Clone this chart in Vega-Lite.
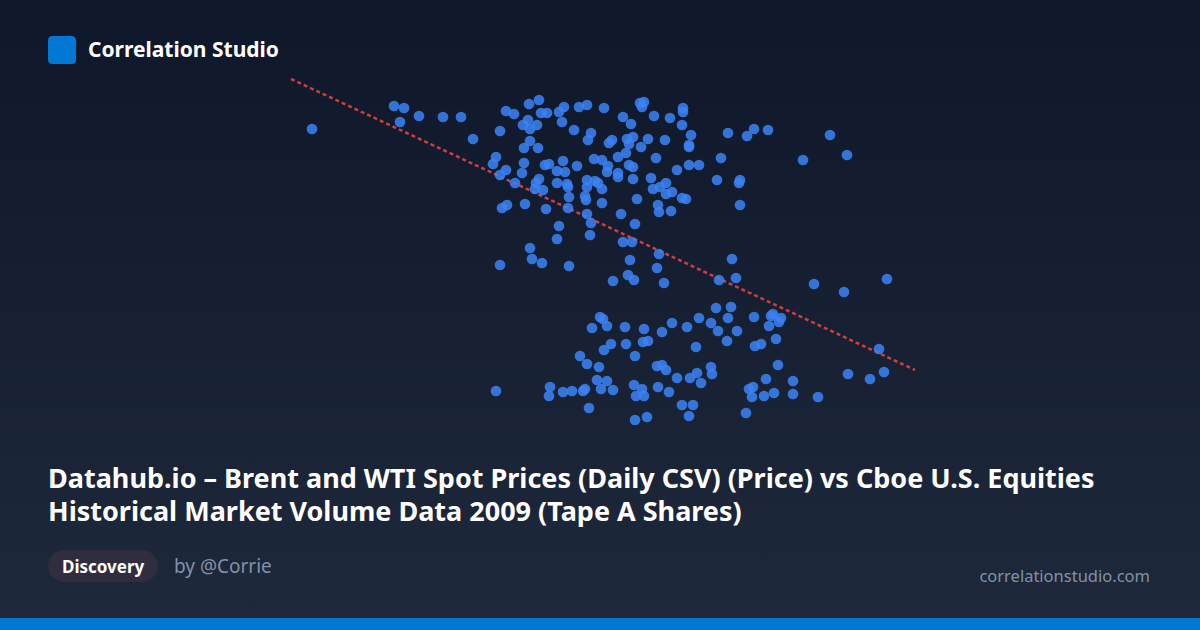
{
  "$schema": "https://vega.github.io/schema/vega-lite/v6.json",
  "width": 1200,
  "height": 630,
  "autosize": {"type": "fit", "contains": "padding"},
  "padding": 0,
  "background": "#0f172a",
  "config": {"view": {"stroke": null}, "font": "Noto Sans"},
  "datasets": {
    "points": [
      {"price":31.2,"volume":32.1},{"price":39.4,"volume":34.4},{"price":40.4,"volume":34.2},{"price":40.0,"volume":32.8},{"price":41.9,"volume":33.4},{"price":44.3,"volume":33.3},{"price":46.1,"volume":33.3},{"price":47.3,"volume":31.1},
      {"price":53.9,"volume":35.0},{"price":52.9,"volume":34.6},{"price":50.6,"volume":33.9},{"price":51.4,"volume":33.6},{"price":54.1,"volume":33.7},{"price":54.7,"volume":33.7},{"price":56.4,"volume":34.3},{"price":55.9,"volume":33.8},{"price":57.9,"volume":34.3},{"price":58.7,"volume":34.5},{"price":60.4,"volume":34.2},{"price":56.2,"volume":32.8},
      {"price":52.8,"volume":33.0},{"price":52.3,"volume":32.5},{"price":53.0,"volume":32.1},{"price":53.7,"volume":32.5},{"price":50.0,"volume":31.9},{"price":57.4,"volume":32.0},{"price":59.1,"volume":31.7},{"price":58.8,"volume":31.0},{"price":53.0,"volume":30.9},{"price":52.4,"volume":30.2},
      {"price":53.8,"volume":30.2},{"price":49.6,"volume":29.3},{"price":49.3,"volume":28.6},{"price":52.4,"volume":28.7},{"price":54.9,"volume":28.6},{"price":54.5,"volume":28.5},{"price":56.3,"volume":28.9},{"price":57.7,"volume":28.4},{"price":59.4,"volume":29.1},{"price":60.2,"volume":29.0},
      {"price":50.6,"volume":28.0},{"price":50.0,"volume":27.5},{"price":52.2,"volume":27.7},{"price":55.7,"volume":27.9},{"price":56.5,"volume":27.8},{"price":51.5,"volume":26.7},{"price":53.9,"volume":27.1},{"price":53.6,"volume":26.7},{"price":54.3,"volume":26.0},{"price":53.5,"volume":26.1},
      {"price":55.7,"volume":26.7},{"price":56.7,"volume":26.6},{"price":56.8,"volume":26.3},{"price":58.7,"volume":27.0},{"price":59.5,"volume":26.9},{"price":59.8,"volume":26.7},{"price":58.7,"volume":26.3},{"price":60.2,"volume":26.1},{"price":56.9,"volume":25.3},{"price":58.5,"volume":25.4},
      {"price":58.6,"volume":25.0},{"price":60.2,"volume":24.7},{"price":52.5,"volume":24.6},{"price":50.7,"volume":24.5},{"price":50.2,"volume":24.2},{"price":54.6,"volume":24.1},{"price":56.8,"volume":24.2},{"price":58.7,"volume":23.6},{"price":59.1,"volume":22.7},{"price":55.9,"volume":22.4},
      {"price":55.7,"volume":21.1},{"price":59.0,"volume":21.5},{"price":53.0,"volume":20.2},{"price":53.2,"volume":19.1},{"price":54.2,"volume":18.7},{"price":50.0,"volume":18.5},{"price":56.9,"volume":18.4},
      {"price":64.0,"volume":34.7},{"price":64.4,"volume":34.8},{"price":64.2,"volume":34.3},{"price":62.3,"volume":33.3},{"price":63.1,"volume":32.6},{"price":65.4,"volume":33.4},{"price":67.0,"volume":33.2},{"price":68.3,"volume":34.2},{"price":68.3,"volume":33.8},{"price":68.2,"volume":32.5},
      {"price":69.1,"volume":31.5},{"price":68.9,"volume":30.5},{"price":68.9,"volume":30.3},{"price":66.5,"volume":31.0},{"price":64.8,"volume":31.1},{"price":63.3,"volume":31.3},{"price":62.7,"volume":31.1},{"price":62.9,"volume":30.6},{"price":61.2,"volume":31.0},{"price":60.9,"volume":30.7},
      {"price":64.1,"volume":30.3},{"price":62.6,"volume":29.7},{"price":61.8,"volume":29.3},{"price":60.8,"volume":28.4},{"price":60.7,"volume":27.8},{"price":61.8,"volume":27.7},{"price":61.8,"volume":27.3},{"price":62.9,"volume":28.5},{"price":63.3,"volume":28.3},{"price":65.6,"volume":29.2},
      {"price":67.7,"volume":28.0},{"price":68.9,"volume":28.5},{"price":69.9,"volume":28.5},{"price":63.3,"volume":27.1},{"price":65.1,"volume":27.2},{"price":66.6,"volume":26.7},{"price":66.0,"volume":26.3},{"price":65.3,"volume":26.1},{"price":66.6,"volume":25.6},{"price":67.2,"volume":25.8},
      {"price":68.2,"volume":25.2},{"price":68.6,"volume":25.1},{"price":63.7,"volume":25.1},{"price":65.8,"volume":24.5},{"price":65.9,"volume":23.8},{"price":67.1,"volume":23.9},{"price":62.1,"volume":23.6},{"price":63.5,"volume":22.6},{"price":62.3,"volume":20.8},{"price":63.2,"volume":20.8},
      {"price":65.9,"volume":19.6},{"price":63.0,"volume":19.0},{"price":65.7,"volume":18.2},{"price":62.8,"volume":17.5},{"price":63.4,"volume":17.0},{"price":61.3,"volume":16.9},{"price":66.4,"volume":16.7},
      {"price":72.8,"volume":31.7},{"price":74.7,"volume":31.4},{"price":75.4,"volume":32.1},{"price":76.8,"volume":32.0},{"price":83.0,"volume":31.5},{"price":84.7,"volume":29.5},{"price":80.3,"volume":29.0},{"price":72.1,"volume":29.2},{"price":71.7,"volume":27.0},{"price":74.0,"volume":27.0},
      {"price":73.9,"volume":26.7},{"price":74.0,"volume":24.5},{"price":73.2,"volume":19.1},{"price":71.9,"volume":17.0},{"price":73.6,"volume":17.2},{"price":81.4,"volume":16.6},{"price":88.7,"volume":17.1},{"price":84.4,"volume":15.8},
      {"price":71.6,"volume":14.2},{"price":73.1,"volume":14.3},{"price":72.8,"volume":13.2},{"price":71.1,"volume":12.7},{"price":71.8,"volume":11.9},{"price":73.7,"volume":11.9},{"price":72.7,"volume":10.9},{"price":69.9,"volume":13.2},{"price":67.2,"volume":12.7},{"price":68.7,"volume":12.3},
      {"price":66.2,"volume":11.8},{"price":69.6,"volume":10.3},{"price":75.4,"volume":13.3},{"price":77.1,"volume":13.4},{"price":77.3,"volume":13.6},{"price":78.1,"volume":13.2},{"price":77.9,"volume":12.8},{"price":76.9,"volume":12.4},{"price":77.6,"volume":11.1},{"price":76.1,"volume":10.6},
      {"price":75.5,"volume":10.4},{"price":87.9,"volume":10.1},{"price":77.8,"volume":8.5},{"price":76.6,"volume":7.1},{"price":79.3,"volume":6.9},{"price":79.3,"volume":5.6},{"price":77.4,"volume":5.7},{"price":76.4,"volume":5.4},{"price":75.3,"volume":6.3},{"price":74.9,"volume":6.1},
      {"price":75.2,"volume":5.3},{"price":81.8,"volume":5.3},{"price":74.6,"volume":3.7},{"price":84.8,"volume":7.6},{"price":87.0,"volume":7.1},{"price":88.4,"volume":7.8},{"price":71.1,"volume":8.3},{"price":71.2,"volume":7.6},{"price":69.7,"volume":7.7},{"price":69.0,"volume":7.2},
      {"price":70.1,"volume":6.7},{"price":67.7,"volume":7.2},{"price":65.7,"volume":8.4},{"price":66.2,"volume":8.5},{"price":66.6,"volume":8.0},{"price":65.8,"volume":6.3},{"price":66.9,"volume":5.8},{"price":68.2,"volume":4.5},{"price":69.3,"volume":4.5},{"price":68.9,"volume":3.4},
      {"price":63.5,"volume":3.0},{"price":64.7,"volume":3.3},{"price":63.4,"volume":6.5},{"price":64.2,"volume":6.1},{"price":63.6,"volume":5.4},{"price":64.4,"volume":5.4},{"price":63.5,"volume":9.4},{"price":62.6,"volume":10.6},{"price":64.3,"volume":10.8},{"price":64.8,"volume":10.9},
      {"price":62.5,"volume":12.3},{"price":64.4,"volume":12.1},{"price":60.0,"volume":13.3},{"price":60.3,"volume":13.1},{"price":60.7,"volume":12.4},{"price":59.2,"volume":12.2},{"price":61.1,"volume":10.6},{"price":60.4,"volume":10.0},{"price":58.0,"volume":9.4},{"price":58.7,"volume":8.6},
      {"price":59.9,"volume":8.3},{"price":59.7,"volume":7.0},{"price":60.7,"volume":6.9},{"price":60.1,"volume":6.1},{"price":61.3,"volume":6.0},{"price":55.0,"volume":6.3},{"price":54.9,"volume":5.4},{"price":56.3,"volume":5.8},{"price":57.2,"volume":5.9},{"price":58.5,"volume":6.1},
      {"price":58.3,"volume":5.9},{"price":58.9,"volume":4.2},{"price":49.6,"volume":5.9}
    ],
    "trend": [
      {"price":29.1,"volume":37.1},{"price":91.5,"volume":8.0}
    ]
  },
  "layer": [
    {
      "data": {"values": [{}]},
      "mark": {"type": "rect", "x": 0, "x2": 1200, "y": 0, "y2": 630,
        "fill": {"gradient": "linear", "x1": 0, "y1": 0, "x2": 0, "y2": 1,
          "stops": [{"offset": 0, "color": "#0f172a"}, {"offset": 1, "color": "#1e293b"}]}},
      "encoding": {}
    },
    {
      "data": {"values": [{}]},
      "mark": {"type": "rect", "x": 0, "x2": 1200, "y": 618, "y2": 630, "fill": "#0078d4"},
      "encoding": {}
    },
    {
      "data": {"values": [{}]},
      "mark": {"type": "rect", "x": 48, "x2": 76, "y": 36, "y2": 64, "cornerRadius": 4, "fill": "#0078d4"},
      "encoding": {}
    },
    {
      "data": {"values": [{}]},
      "mark": {"type": "text", "text": "Correlation Studio", "x": 88, "y": 57, "align": "left", "baseline": "alphabetic",
        "font": "Noto Sans", "fontSize": 21, "fontWeight": "bold", "fill": "#ffffff"},
      "encoding": {}
    },
    {
      "data": {"name": "trend"},
      "mark": {"type": "line", "stroke": "#ef4444", "strokeOpacity": 0.85, "strokeWidth": 2.5, "strokeDash": [4, 3]},
      "encoding": {
        "x": {"field": "price", "type": "quantitative", "scale": {"domain": [0, 120], "zero": false, "nice": false}, "axis": null},
        "y": {"field": "volume", "type": "quantitative", "scale": {"domain": [-18, 45], "zero": false, "nice": false}, "axis": null}
      }
    },
    {
      "data": {"name": "points"},
      "mark": {"type": "circle", "size": 115, "fill": "#3b82f6", "fillOpacity": 0.85, "strokeWidth": 0},
      "encoding": {
        "x": {"field": "price", "type": "quantitative", "scale": {"domain": [0, 120], "zero": false, "nice": false}, "axis": null},
        "y": {"field": "volume", "type": "quantitative", "scale": {"domain": [-18, 45], "zero": false, "nice": false}, "axis": null}
      }
    },
    {
      "data": {"values": [{}]},
      "mark": {"type": "text", "text": ["Datahub.io – Brent and WTI Spot Prices (Daily CSV) (Price) vs Cboe U.S. Equities", "Historical Market Volume Data 2009 (Tape A Shares)"],
        "x": 48, "y": 488, "align": "left", "baseline": "alphabetic", "lineHeight": 33,
        "font": "Noto Sans", "fontSize": 27, "fontWeight": "bold", "fill": "#ffffff"},
      "encoding": {}
    },
    {
      "data": {"values": [{}]},
      "mark": {"type": "rect", "x": 48, "x2": 158, "y": 550, "y2": 582, "cornerRadius": 16, "fill": "#302d3f"},
      "encoding": {}
    },
    {
      "data": {"values": [{}]},
      "mark": {"type": "text", "text": "Discovery", "x": 62, "y": 573, "align": "left", "baseline": "alphabetic",
        "font": "Noto Sans", "fontSize": 17, "fontWeight": "bold", "fill": "#ffffff"},
      "encoding": {}
    },
    {
      "data": {"values": [{}]},
      "mark": {"type": "text", "text": "by @Corrie", "x": 174, "y": 573, "align": "left", "baseline": "alphabetic",
        "font": "Noto Sans", "fontSize": 19, "fill": "#8391a7"},
      "encoding": {}
    },
    {
      "data": {"values": [{}]},
      "mark": {"type": "text", "text": "correlationstudio.com", "x": 1150, "y": 582, "align": "right", "baseline": "alphabetic",
        "font": "Noto Sans", "fontSize": 16.5, "fill": "#8391a7"},
      "encoding": {}
    }
  ]
}
